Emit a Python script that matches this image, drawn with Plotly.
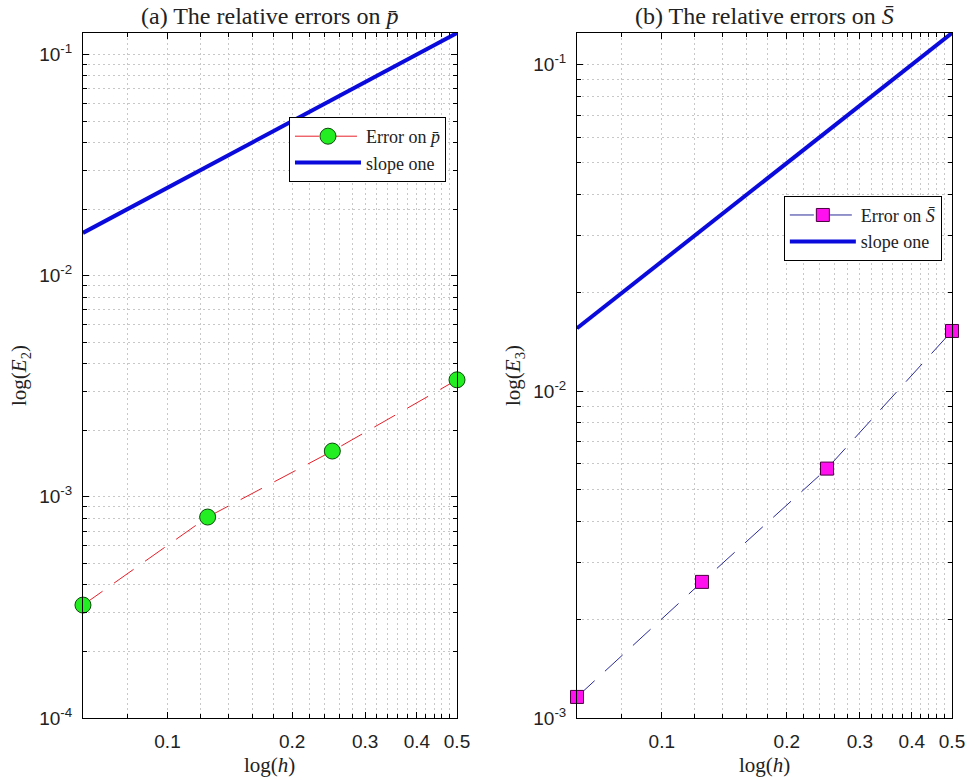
import plotly.graph_objects as go
from plotly.subplots import make_subplots

# mesh sizes and measured errors
h = [0.0625, 0.125, 0.25, 0.5]
err_p = [3.24e-4, 8.1e-4, 1.61e-3, 3.38e-3]
err_S = [1.16e-3, 2.61e-3, 5.8e-3, 1.53e-2]

# reference slope-one line (end points)
slope_h = [0.0625, 0.5]
slope_vals = [0.0156, 0.125]

# ticks
x_major = [0.1, 0.2, 0.3, 0.4, 0.5]
x_major_text = ["0.1", "0.2", "0.3", "0.4", "0.5"]
x_minor = [0.08, 0.12, 0.14, 0.16, 0.18, 0.22, 0.24, 0.26, 0.28,
           0.32, 0.34, 0.36, 0.38, 0.42, 0.44, 0.46, 0.48]
y_major_a = [1e-4, 1e-3, 1e-2, 1e-1]
y_major_text_a = ["10<sup>-4</sup>", "10<sup>-3</sup>", "10<sup>-2</sup>", "10<sup>-1</sup>"]
y_major_b = [1e-3, 1e-2, 1e-1]
y_major_text_b = ["10<sup>-3</sup>", "10<sup>-2</sup>", "10<sup>-1</sup>"]

SERIF = "Liberation Serif"
SANS = "Liberation Sans"
GRID = "#c8c8c8"


def minor_decades(decades):
    return [k * d for d in decades for k in range(2, 10)]


fig = make_subplots(1, 2, horizontal_spacing=0.12)

# (a) errors on p-bar
fig.add_trace(
    go.Scatter(
        x=h, y=err_p, mode="lines+markers", name="Error on <i>p̄</i>",
        line=dict(color="#e8202a", width=1, dash="24px,14px"),
        marker=dict(symbol="circle", size=16, color="#22ee22",
                    line=dict(color="#0a4a0a", width=1)),
        cliponaxis=False, legend="legend",
    ),
    row=1, col=1,
)
fig.add_trace(
    go.Scatter(
        x=slope_h, y=slope_vals, mode="lines", name="slope one",
        line=dict(color="#0a0adc", width=4), legend="legend",
    ),
    row=1, col=1,
)

# (b) errors on S-bar
fig.add_trace(
    go.Scatter(
        x=h, y=err_S, mode="lines+markers", name="Error on <i>S̄</i>",
        line=dict(color="#2a2a9a", width=1, dash="24px,14px"),
        marker=dict(symbol="square", size=13, color="#ff10ee",
                    line=dict(color="#4a0040", width=1)),
        cliponaxis=False, legend="legend2",
    ),
    row=1, col=2,
)
fig.add_trace(
    go.Scatter(
        x=slope_h, y=slope_vals, mode="lines", name="slope one",
        line=dict(color="#0a0adc", width=4), legend="legend2",
    ),
    row=1, col=2,
)

axis_common = dict(
    showline=True, linecolor="black", linewidth=1, mirror="ticks",
    ticks="inside", ticklen=6, tickcolor="black", automargin=False,
    showgrid=True, gridcolor=GRID, griddash="2px,3px", gridwidth=1,
    zeroline=False, tickfont=dict(family=SANS, size=19, color="#222"),
    title_font=dict(family=SERIF, size=21, color="#222"),
)

for col in (1, 2):
    fig.update_xaxes(
        type="log", range=[-1.20413, -0.30102],
        tickmode="array", tickvals=x_major, ticktext=x_major_text,
        minor=dict(tickmode="array", tickvals=x_minor, ticks="inside", ticklen=4,
                   tickcolor="black", showgrid=True, gridcolor=GRID,
                   griddash="2px,3px"),
        ticklabelstandoff=6,
        row=1, col=col, **axis_common,
    )

fig.update_yaxes(
    type="log", range=[-4.00001, -0.9031],
    tickmode="array", tickvals=y_major_a, ticktext=y_major_text_a,
    minor=dict(tickmode="array", tickvals=minor_decades([1e-4, 1e-3, 1e-2]),
               ticks="inside", ticklen=4, tickcolor="black", showgrid=True,
               gridcolor=GRID, griddash="2px,3px"),
    ticklabelstandoff=6,
    title_text="log(<i>E</i><sub>2</sub>)", title_standoff=6,
    row=1, col=1, **axis_common,
)
fig.update_yaxes(
    type="log", range=[-3.00001, -0.9031],
    tickmode="array", tickvals=y_major_b, ticktext=y_major_text_b,
    minor=dict(tickmode="array", tickvals=minor_decades([1e-3, 1e-2]),
               ticks="inside", ticklen=4, tickcolor="black", showgrid=True,
               gridcolor=GRID, griddash="2px,3px"),
    ticklabelstandoff=6,
    title_text="log(<i>E</i><sub>3</sub>)", title_standoff=6,
    row=1, col=2, **axis_common,
)

title_font = dict(family=SERIF, size=24, color="#222")
xlabel_font = dict(family=SERIF, size=21, color="#222")

fig.update_layout(
    width=967, height=780,
    margin=dict(l=0, r=0, t=0, b=0),
    paper_bgcolor="white", plot_bgcolor="white",
    xaxis=dict(domain=[0.0858, 0.4726]),
    xaxis2=dict(domain=[0.5967, 0.9845]),
    yaxis=dict(domain=[0.0795, 0.9577]),
    yaxis2=dict(domain=[0.0795, 0.9577]),
    legend=dict(
        x=0.4612, y=0.85, xanchor="right", yanchor="top",
        bgcolor="white", bordercolor="black", borderwidth=1,
        font=dict(family=SERIF, size=18, color="#222"),
        itemwidth=66, tracegroupgap=0,
    ),
    legend2=dict(
        x=0.974, y=0.749, xanchor="right", yanchor="top",
        bgcolor="white", bordercolor="black", borderwidth=1,
        font=dict(family=SERIF, size=18, color="#222"),
        itemwidth=66, tracegroupgap=0,
    ),
    annotations=[
        dict(text="(a) The relative errors on <i>p̄</i>", x=0.2792, y=1.0,
             xref="paper", yref="paper", xanchor="center", yanchor="top",
             yshift=-1, showarrow=False, font=title_font),
        dict(text="(b) The relative errors on <i>S̄</i>", x=0.7906, y=1.0,
             xref="paper", yref="paper", xanchor="center", yanchor="top",
             yshift=-1, showarrow=False, font=title_font),
        dict(text="log(<i>h</i>)", x=0.2792, y=0.019,
             xref="paper", yref="paper", xanchor="center", yanchor="middle",
             showarrow=False, font=xlabel_font),
        dict(text="log(<i>h</i>)", x=0.7906, y=0.019,
             xref="paper", yref="paper", xanchor="center", yanchor="middle",
             showarrow=False, font=xlabel_font),
    ],
)

# drop the page's default body margin so the figure fills the window
fig.write_html(
    "out.html",
    config={"displayModeBar": False},
    post_script="document.body.style.margin='0';document.body.style.overflow='hidden';",
)
